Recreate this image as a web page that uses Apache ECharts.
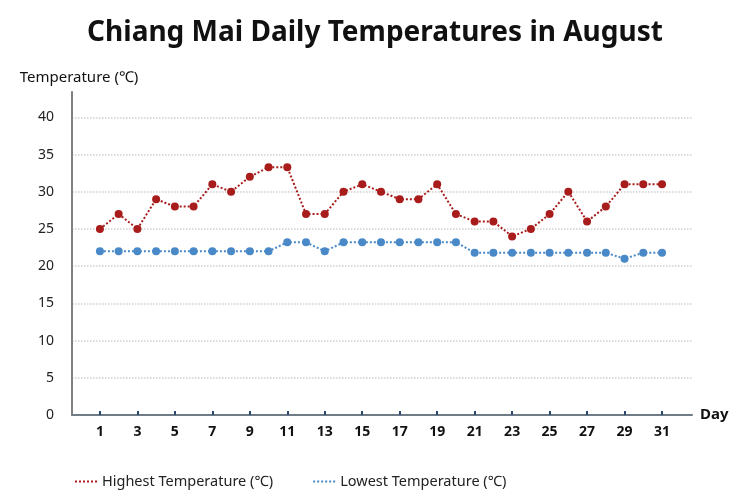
<!DOCTYPE html>
<html><head><meta charset="utf-8">
<script src="https://cdn.jsdelivr.net/npm/echarts@6/dist/echarts.min.js"></script>
<style>html,body{margin:0;padding:0;background:#fff}#c{width:750px;height:500px}</style>
</head><body><div id="c"></div>
<script>
const days = Array.from({length:31},(_,i)=>i+1);
const highest = [25,27,25,29,28,28,31,30,32,33.3,33.3,27,27,30,31,30,29,29,31,27,26,26,24,25,27,30,26,28,31,31,31];
const lowest  = [22,22,22,22,22,22,22,22,22,22,23.2,23.2,22,23.2,23.2,23.2,23.2,23.2,23.2,23.2,21.8,21.8,21.8,21.8,21.8,21.8,21.8,21.8,21,21.8,21.8];
const xTicks = [1,3,5,7,9,11,13,15,17,19,21,23,25,27,29,31];
const yTicks = [0,5,10,15,20,25,30,35,40];
const names = ['Highest Temperature (℃)','Lowest Temperature (℃)'];
const RED = '#a81c1c', BLUE = '#4a89c8';
const dotIcon = 'path://M0,0h2v2h-2zM4,0h2v2h-2zM8,0h2v2h-2zM12,0h2v2h-2zM16,0h2v2h-2zM20,0h2v2h-2z';
const FONT = '"Noto Sans", "Open Sans", sans-serif';
const chart = echarts.init(document.getElementById('c'));
chart.setOption({
  animation:false,
  title:{text:'Chiang Mai Daily Temperatures in August',left:'center',top:14,
    textStyle:{fontFamily:FONT,fontSize:28,fontWeight:'bold',color:'#111'}},
  grid:{left:72,right:58,top:92,bottom:85},
  legend:{bottom:6,left:70,itemGap:40,itemWidth:22,itemHeight:2,
    textStyle:{fontFamily:FONT,fontSize:14.5,color:'#222'},
    data:[{name:names[0],icon:dotIcon},{name:names[1],icon:dotIcon}]},
  xAxis:{type:'value',min:-0.49,max:32.6,name:'Day',nameGap:8,
    nameTextStyle:{fontFamily:FONT,fontSize:15,fontWeight:'bold',color:'#111'},
    axisLine:{onZero:false,lineStyle:{color:'#6f7b86',width:2}},
    axisTick:{show:true,inside:true,length:4,customValues:xTicks,lineStyle:{color:'#2c4a6e',width:2}},
    axisLabel:{customValues:xTicks,fontFamily:FONT,fontSize:14,fontWeight:'bold',color:'#111',margin:10},
    splitLine:{show:false}},
  yAxis:{type:'value',min:0,max:43.4,name:'Temperature (℃)',nameGap:7,
    nameTextStyle:{fontFamily:FONT,fontSize:15,color:'#111',align:'center',padding:[0,0,0,14]},
    axisLine:{show:true,onZero:false,lineStyle:{color:'#808080',width:2}},
    axisTick:{show:false,customValues:yTicks},
    axisLabel:{customValues:yTicks,fontFamily:FONT,fontSize:14,color:'#222',margin:18},
    splitLine:{show:true,lineStyle:{color:'#cfcfcf',type:'dotted',width:1.5}}},
  series:[
    {name:names[0],type:'line',data:days.map((d,i)=>[d,highest[i]]),color:RED,
     symbol:'circle',symbolSize:8,lineStyle:{type:'dotted',width:2,color:RED},itemStyle:{color:RED}},
    {name:names[1],type:'line',data:days.map((d,i)=>[d,lowest[i]]),color:BLUE,
     symbol:'circle',symbolSize:8,lineStyle:{type:'dotted',width:2,color:BLUE},itemStyle:{color:BLUE}}
  ]
});
</script></body></html>
